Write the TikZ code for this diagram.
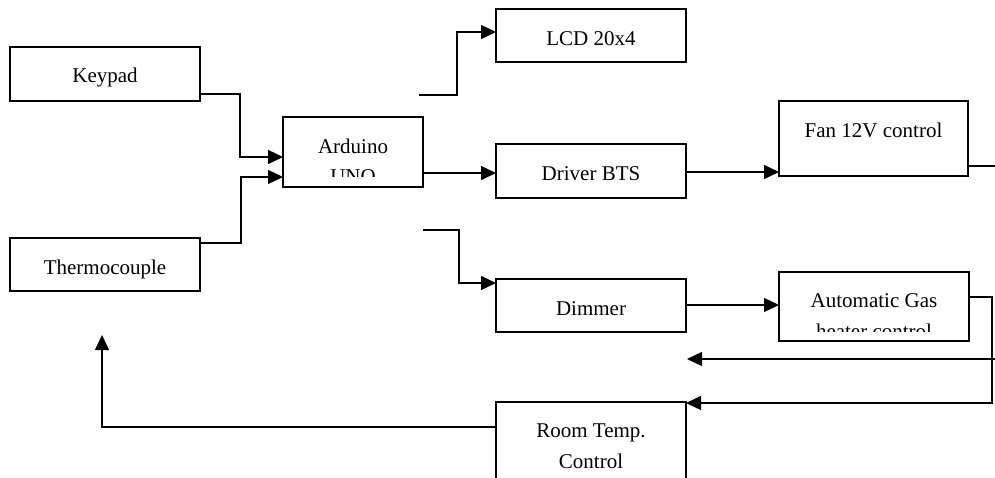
\documentclass[tikz,border=0pt]{standalone}
\usepackage{fontspec}
\setmainfont{Liberation Serif}
\usetikzlibrary{arrows.meta}
\begin{document}
\begin{tikzpicture}[x=1pt,y=-1pt,
 box/.style={draw,line width=1.5pt,rectangle,inner sep=0pt,outer sep=0pt},
 conn/.style={line width=1.3pt},
 arr/.style={conn,-{Triangle[length=15pt,width=14pt]}},
 txt/.style={anchor=base,inner sep=0pt,font=\fontsize{21}{31}\selectfont}]
\clip (0,0) rectangle (995,477);
\fill[white] (0,0) rectangle (995,477);
% boxes
\node[box,minimum width=190pt,minimum height=54pt] (kp) at (105,74) {};
\node[box,minimum width=190pt,minimum height=53pt] (tc) at (105,264.5) {};
\node[box,minimum width=140pt,minimum height=70pt] (ard) at (353,152) {};
\node[box,minimum width=190pt,minimum height=53pt] (lcd) at (591,35.5) {};
\node[box,minimum width=190pt,minimum height=54pt] (drv) at (591,171) {};
\node[box,minimum width=189pt,minimum height=75pt] (fan) at (873.5,138.5) {};
\node[box,minimum width=190pt,minimum height=53pt] (dim) at (591,305.5) {};
\node[box,minimum width=190pt,minimum height=69pt] (gas) at (874,306.5) {};
\node[box,minimum width=190pt,minimum height=90pt] (rtc) at (591,447) {};
% texts
\node[txt] (kpt) at (105,82) {Keypad};
\node[txt] (tct) at (105,274) {Thermocouple};
\node[txt] (ardt) at (353,153) {Arduino};
\begin{scope}
\clip (284,118) rectangle (422,176);
\node[txt] (ardt2) at (353,183) {UNO};
\end{scope}
\node[txt] (lcdt) at (591,45) {LCD 20x4};
\node[txt] (drvt) at (591,180) {Driver BTS};
\node[txt] (fant) at (873.5,137) {Fan 12V control};
\node[txt] (dimt) at (591,315) {Dimmer};
\node[txt] (gast) at (874,307) {Automatic Gas};
\begin{scope}
\clip (780,273) rectangle (968,331);
\node[txt] (gast2) at (874,338) {heater control};
\end{scope}
\node[txt] (rtct) at (591,437) {Room Temp.};
\node[txt] (rtct2) at (591,468) {Control};
% free ends
\coordinate (lcdin) at (419,95);
\coordinate (dimin) at (423,230);
\coordinate (fanout) at (996,166);
\coordinate (retin) at (996,359);
\coordinate (retout) at (687,359);
\coordinate (tcin) at (102,335);
% connectors
\draw[arr] (kp.east |- 0,94) -- (240,94) -- (240,157) -- (ard.west |- 0,157);
\draw[arr] (tc.east |- 0,243) -- (241,243) -- (241,177) -- (ard.west |- 0,177);
\draw[arr] (lcdin) -- (457,95) -- (457,32) -- (lcd.west |- 0,32);
\draw[arr] (ard.east |- 0,173) -- (drv.west |- 0,173);
\draw[arr] (drv.east |- 0,172) -- (fan.west |- 0,172);
\draw[conn] (fan.east |- 0,166) -- (fanout);
\draw[arr] (dimin) -- (459,230) -- (459,283) -- (dim.west |- 0,283);
\draw[arr] (dim.east |- 0,305) -- (gas.west |- 0,305);
\draw[arr] (gas.east |- 0,297) -- (992,297) -- (992,403) -- (rtc.north east |- 0,403);
\draw[arr] (retin) -- (retout);
\draw[arr] (rtc.west |- 0,427) -- (102,427) -- (tcin);
\end{tikzpicture}
\end{document}
